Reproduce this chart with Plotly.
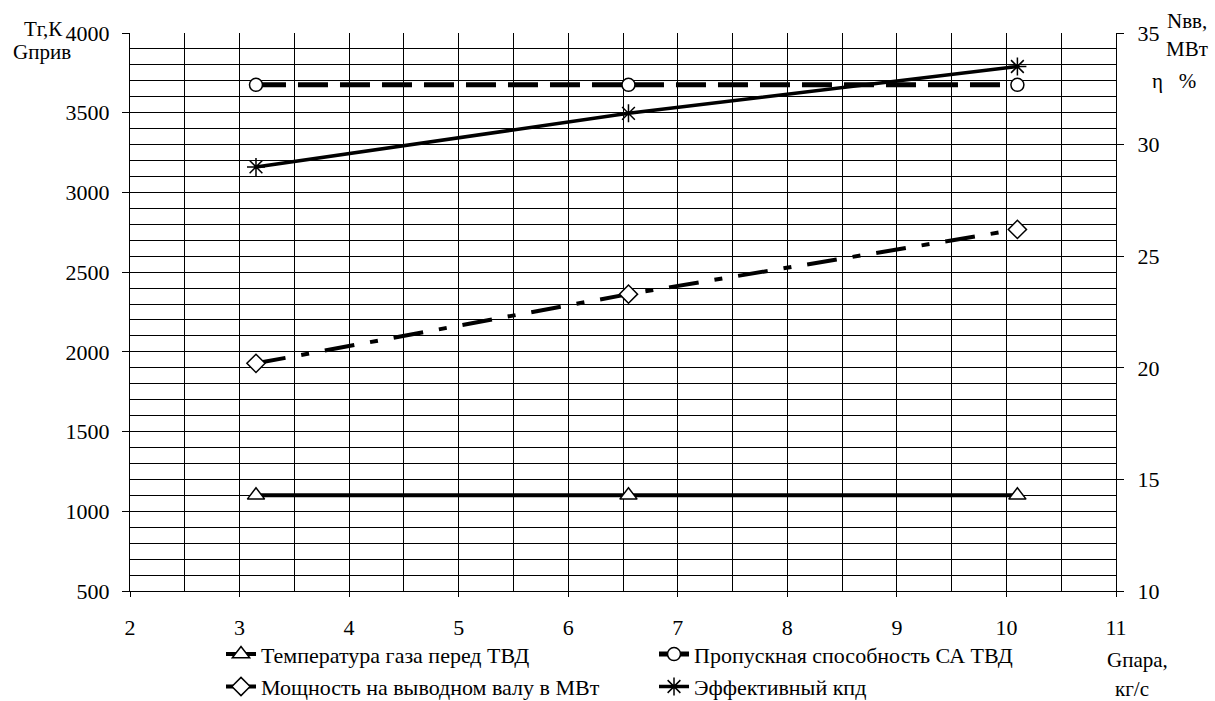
import plotly.graph_objects as go

# ---- data ----
g_para = [3.15, 6.55, 10.1]                 # Gпара, кг/с
temp_gas = [1100, 1100, 1100]               # Температура газа перед ТВД, K (left axis)
propusk = [3675, 3675, 3675]                # Пропускная способность СА ТВД (left axis)
power_mw = [20.2, 23.3, 26.2]               # Мощность на выводном валу, МВт (right axis)
eff_kpd = [29.0, 31.4, 33.5]                # Эффективный кпд, % (right axis)

x_ticks = [2, 3, 4, 5, 6, 7, 8, 9, 10, 11]
y_left_ticks = [500, 1000, 1500, 2000, 2500, 3000, 3500, 4000]
y_right_ticks = [10, 15, 20, 25, 30, 35]

FONT = '"Liberation Serif", "Times New Roman", serif'

fig = go.Figure()

fig.add_trace(go.Scatter(
    x=g_para, y=temp_gas, name="Температура газа перед ТВД",
    mode="lines+markers", yaxis="y", legend="legend",
    line=dict(color="black", width=4),
    marker=dict(symbol="triangle-up", size=15, color="white",
                line=dict(color="black", width=1.5)),
))
fig.add_trace(go.Scatter(
    x=g_para, y=propusk, name="Пропускная способность СА ТВД",
    mode="lines+markers", yaxis="y", legend="legend",
    line=dict(color="black", width=5, dash="30px,12px"),
    marker=dict(symbol="circle", size=13, color="white",
                line=dict(color="black", width=1.5)),
))
fig.add_trace(go.Scatter(
    x=g_para, y=power_mw, name="Мощность на выводном валу в МВт",
    mode="lines+markers", yaxis="y2", legend="legend2",
    line=dict(color="black", width=4, dash="30px,16px,8px,16px"),
    marker=dict(symbol="diamond", size=14, color="white",
                line=dict(color="black", width=1.5)),
))
fig.add_trace(go.Scatter(
    x=g_para, y=eff_kpd, name="Эффективный кпд",
    mode="lines+markers", yaxis="y2", legend="legend2",
    line=dict(color="black", width=3.5),
    marker=dict(symbol="asterisk-open", size=15, color="black",
                line=dict(color="black", width=1.5)),
))

axis_font = dict(family=FONT, size=22, color="black")
leg_font = dict(family=FONT, size=22, color="black")

fig.update_layout(
    width=1215, height=701,
    margin=dict(l=130, r=99, t=33, b=110, autoexpand=False),
    paper_bgcolor="white", plot_bgcolor="white",
    font=dict(family=FONT, size=20, color="black"),
    xaxis=dict(
        range=[2, 11], tickvals=x_ticks, ticks="outside", ticklen=5,
        tickcolor="black", tickfont=axis_font, ticklabelstandoff=12,
        showgrid=True, gridcolor="black", gridwidth=1,
        minor=dict(dtick=0.5, tick0=2, showgrid=True, gridcolor="black", gridwidth=1, ticks=""),
        showline=True, linecolor="black", linewidth=1, zeroline=False,
    ),
    yaxis=dict(
        range=[500, 4000], tickvals=y_left_ticks, ticks="outside", ticklen=7,
        tickcolor="black", tickfont=axis_font, ticklabelstandoff=8,
        showgrid=True, gridcolor="black", gridwidth=1,
        minor=dict(dtick=100, tick0=500, showgrid=True, gridcolor="black", gridwidth=1, ticks=""),
        showline=True, linecolor="black", linewidth=1, zeroline=False,
    ),
    yaxis2=dict(
        range=[10, 35], tickvals=y_right_ticks, ticks="outside", ticklen=7,
        tickcolor="black", tickfont=axis_font, ticklabelstandoff=9,
        overlaying="y", side="right",
        showgrid=False, showline=True, linecolor="black", linewidth=1, zeroline=False,
    ),
    legend=dict(
        orientation="h", x=0.0923, xanchor="left", y=-0.1134, yanchor="middle",
        entrywidth=388, entrywidthmode="pixels",
        font=leg_font, bgcolor="rgba(0,0,0,0)",
    ),
    legend2=dict(
        orientation="h", x=0.0923, xanchor="left", y=-0.1715, yanchor="middle",
        entrywidth=388, entrywidthmode="pixels",
        font=leg_font, bgcolor="rgba(0,0,0,0)",
    ),
)

ann_font = dict(family=FONT, size=21, color="black")
annotations = [
    dict(text="Тг,К", x=-0.0664, y=1.0075, xanchor="right"),
    dict(text="Gприв", x=-0.0578, y=0.966, xanchor="right"),
    dict(text="Nвв,", x=1.0725, y=1.0216, xanchor="center"),
    dict(text="МВт", x=1.0725, y=0.971, xanchor="center"),
    dict(text="η\u00a0\u00a0\u00a0%", x=1.059, y=0.914, xanchor="center"),
    dict(text="Gпара,", x=1.0213, y=-0.124, xanchor="center"),
    dict(text="кг/с", x=1.0162, y=-0.176, xanchor="center"),
]
for a in annotations:
    fig.add_annotation(xref="paper", yref="paper", yanchor="middle",
                       showarrow=False, font=ann_font, **a)

fig.write_html(
    "out.html",
    config={"displayModeBar": False},
    post_script="document.body.style.margin='0';document.body.style.overflow='hidden';",
)
